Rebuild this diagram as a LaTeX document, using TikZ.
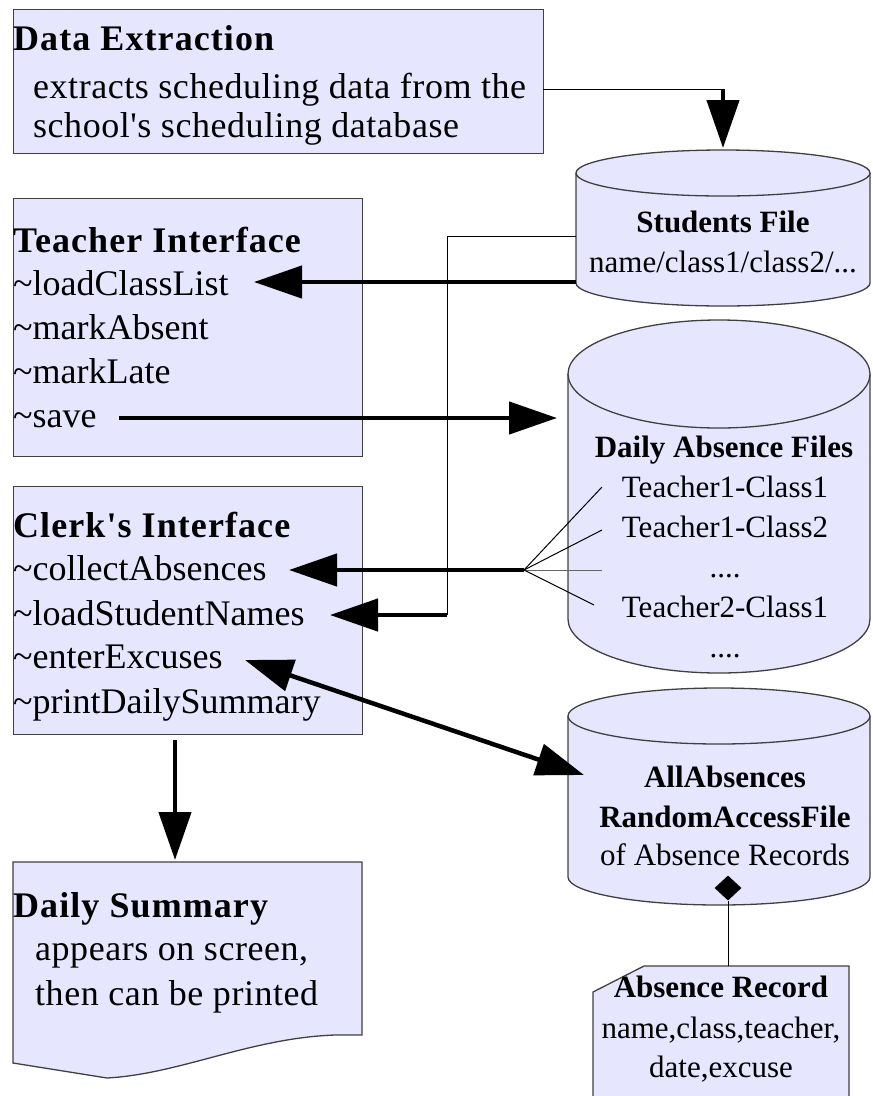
\documentclass[tikz,border=0pt]{standalone}
\usepackage{fontspec}
\setmainfont{Liberation Serif}[Ligatures=TeXOff]
\newfontfamily\spacedfont{Liberation Serif}[Ligatures=TeXOff,LetterSpace=3]
\newfontfamily\lightspaced{Liberation Serif}[Ligatures=TeXOff,LetterSpace=1.5]
\usetikzlibrary{arrows.meta,shapes.geometric}
\definecolor{boxfill}{HTML}{E6E6FF}
\definecolor{boxline}{HTML}{404040}
\begin{document}
\begin{tikzpicture}[x=1pt,y=-1pt,
  shapebox/.style={fill=boxfill,draw=boxline,line width=1.3pt},
  rectbox/.style={shapebox,anchor=north west,inner sep=0pt},
  ttl/.style={font=\spacedfont\bfseries\fontsize{36}{43}\selectfont,inner sep=0pt,anchor=base west},
  txt/.style={font=\fontsize{36}{43}\selectfont,inner sep=0pt,anchor=base west},
  stxt/.style={font=\lightspaced\fontsize{36}{43}\selectfont,inner sep=0pt,anchor=base west},
  cttl/.style={font=\bfseries\fontsize{31}{37}\selectfont,inner sep=0pt,anchor=base},
  ctxt/.style={font=\fontsize{31}{37}\selectfont,inner sep=0pt,anchor=base},
  thickarrow/.style={line width=4.5pt,-{Triangle[length=48pt,width=32pt]}},
  dblarrow/.style={line width=4.5pt,{Triangle[length=48pt,width=32pt]}-{Triangle[length=48pt,width=32pt]}},
  thinline/.style={line width=1pt,draw=black}]
\useasboundingbox (0,0) rectangle (873,1096);

% ---------- rectangular boxes ----------
\node[rectbox,minimum width=530pt,minimum height=144pt] (de) at (13,9) {};
\node[rectbox,minimum width=349pt,minimum height=258pt] (ti) at (13,198) {};
\node[rectbox,minimum width=349pt,minimum height=248pt] (ci) at (13,486) {};

% Daily Summary (document shape)
\filldraw[shapebox] (13,862) -- (362,862) -- (362,1035) -- (335,1035)
  .. controls (250,1038) and (180,1074) .. (107,1078) -- (13,1063) -- cycle;
\coordinate (dsTop) at (175,860);

% Absence Record (note shape)
\filldraw[shapebox] (644,966) -- (849,966) -- (849,1102) -- (593,1102) -- (593,992) -- cycle;
\coordinate (arTop) at (728,966);

% ---------- cylinders ----------
% Students File
\filldraw[shapebox] (576,173) -- (576,283) arc[start angle=180,end angle=0,x radius=147,y radius=23] -- (870,173);
\filldraw[shapebox] (723,173) ellipse[x radius=147,y radius=23];
% Daily Absence Files
\filldraw[shapebox] (568,374) -- (568,619) arc[start angle=180,end angle=0,x radius=151,y radius=54] -- (870,374);
\filldraw[shapebox] (719,374) ellipse[x radius=151,y radius=54];
% AllAbsences
\filldraw[shapebox] (568,716) -- (568,877) arc[start angle=180,end angle=0,x radius=151,y radius=28] -- (870,716);
\filldraw[shapebox] (719,716) ellipse[x radius=151,y radius=28];

% ---------- texts ----------
\node[ttl] (deT) at (13,50) {Data Extraction};
\node[stxt] (de1) at (33,98) {extracts scheduling data from the};
\node[stxt] (de2) at (33,137) {school's scheduling database};

\node[ttl] (tiT) at (13,252) {Teacher Interface};
\node[txt] (ti1) at (13,295) {\textasciitilde loadClassList};
\node[txt] (ti2) at (13,339) {\textasciitilde markAbsent};
\node[txt] (ti3) at (13,383) {\textasciitilde markLate};
\node[txt] (ti4) at (13,427) {\textasciitilde save};

\node[ttl] (ciT) at (13,537) {Clerk's Interface};
\node[txt] (ci1) at (13,580) {\textasciitilde collectAbsences};
\node[txt] (ci2) at (13,625) {\textasciitilde loadStudentNames};
\node[txt] (ci3) at (13,668) {\textasciitilde enterExcuses};
\node[txt] (ci4) at (13,713) {\textasciitilde printDailySummary};

\node[ttl] (dsT) at (13,917) {Daily Summary};
\node[stxt] (ds1) at (35,960) {appears on screen,};
\node[stxt] (ds2) at (35,1005) {then can be printed};

\node[cttl] (sfT) at (723,232) {Students File};
\node[ctxt] (sf1) at (723,272) {name/class1/class2/...};

\node[cttl] (daT) at (724,457) {Daily Absence Files};
\node[ctxt] (da1) at (725,497) {Teacher1-Class1};
\node[ctxt] (da2) at (725,537) {Teacher1-Class2};
\node[ctxt] (da3) at (725,577) {....};
\node[ctxt] (da4) at (725,617) {Teacher2-Class1};
\node[ctxt] (da5) at (725,657) {....};

\node[cttl] (aaT) at (725,787) {AllAbsences};
\node[cttl] (aa1) at (725,827) {RandomAccessFile};
\node[ctxt] (aa2) at (725,865) {of Absence Records};

\node[cttl] (arT) at (721,997) {Absence Record};
\node[ctxt] (ar1) at (721,1038) {name,class,teacher,};
\node[ctxt] (ar2) at (721,1077) {date,excuse};

% ---------- connector coordinates ----------
\coordinate (deR) at (543,89);
\coordinate (deC) at (723,89);
\coordinate (sfTop) at (723,148);
\coordinate (sfL) at (576,282);
\coordinate (lclTip) at (254,282);
\coordinate (saveS) at (119,418);
\coordinate (saveTip) at (557,418);
\coordinate (sfL2) at (576,236);
\coordinate (elbA) at (447,236);
\coordinate (elbB) at (447,615);
\coordinate (lsnTip) at (330,615);
\coordinate (fan) at (524,570);
\coordinate (f1) at (602,487);
\coordinate (f2) at (602,530);
\coordinate (f3) at (602,570);
\coordinate (f4) at (594,605);
\coordinate (caTip) at (289,570);
\coordinate (eeTip) at (245,660);
\coordinate (aaTip) at (584,775);
\coordinate (ciS) at (175,740);

% ---------- connectors ----------
\draw[thinline] (deR) -- (deC);
\draw[thickarrow] (deC) -- (sfTop);
\draw[thickarrow] (sfL) -- (lclTip);
\draw[thickarrow] (saveS) -- (saveTip);
\draw[thinline] (sfL2) -- (elbA) -- (elbB);
\draw[thickarrow] (elbB) -- (lsnTip);
\draw[thinline] (fan) -- (f1);
\draw[thinline] (fan) -- (f2);
\draw[thinline,draw=black!60] (fan) -- (f3);
\draw[thinline] (fan) -- (f4);
\draw[thickarrow] (fan) -- (caTip);
\draw[dblarrow] (eeTip) -- (aaTip);
\draw[thickarrow] (ciS) -- (dsTop);

\node[diamond,fill=black,inner sep=0pt,minimum width=27pt,minimum height=25pt] (dia) at (728,888) {};
\draw[thinline] (dia.south) -- (arTop);
\end{tikzpicture}
\end{document}
